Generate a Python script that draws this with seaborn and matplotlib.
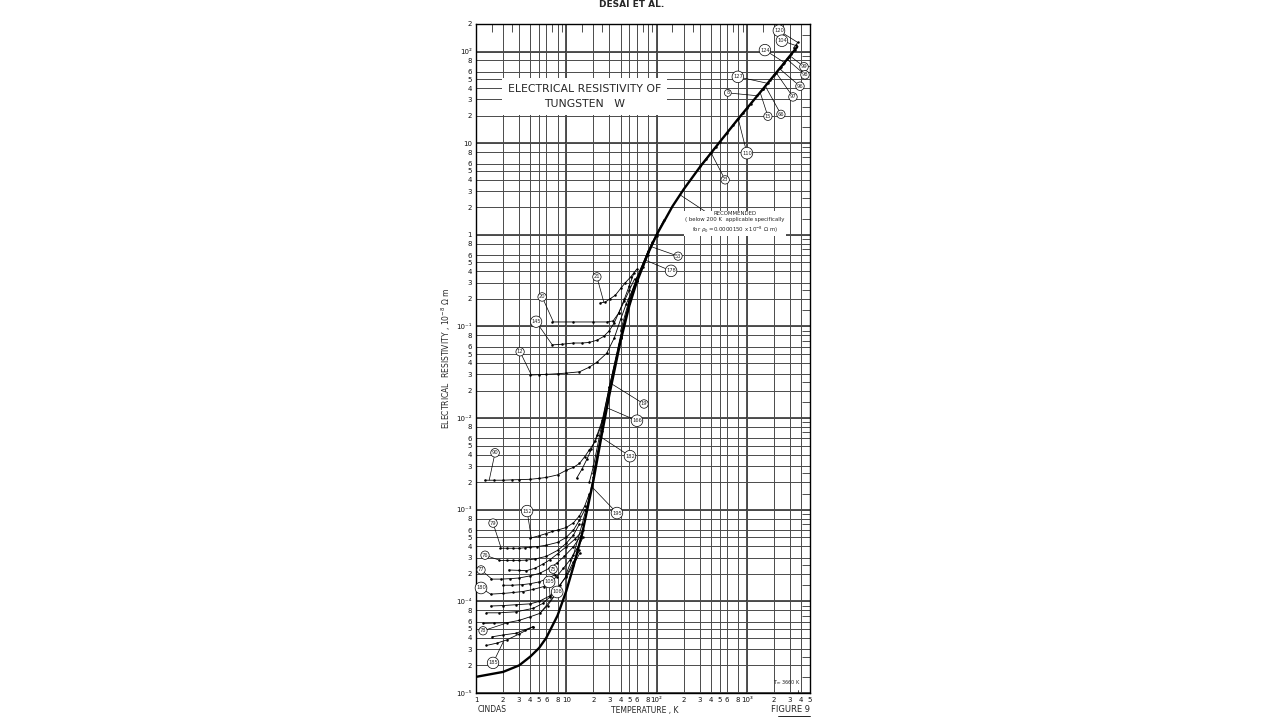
import math
import matplotlib
matplotlib.use("Agg")
import matplotlib.pyplot as plt
import matplotlib.ticker as mticker
from matplotlib.lines import Line2D
import seaborn as sns

# Recommended curve (rho0 = 0.0000150 x 10^-8 ohm m)
rec_T = [1, 2, 3, 4, 5, 6, 8, 10, 12, 15, 20, 25, 30, 40, 50, 60, 80, 100, 150, 200,
         300, 400, 500, 600, 800, 1000, 1500, 2000, 2500, 3000, 3600]
rec_rho = [1.5e-5, 1.7e-5, 2.0e-5, 2.5e-5, 3.1e-5, 4.0e-5, 7.0e-5, 1.3e-4, 2.4e-4, 5.5e-4,
           2.1e-3, 7.0e-3, 1.8e-2, 7.0e-2, 0.17, 0.30, 0.62, 1.0, 2.05, 3.15,
           5.45, 7.8, 10.3, 12.9, 18.4, 24.0, 38.8, 55.0, 72.0, 90.0, 112.0]

# experimental data sets (T in K, rho in 10^-8 ohm m)
t_12 = [4, 5, 6, 8, 10, 14, 18, 22, 28, 34, 40, 46, 53, 60]
rho_12 = [0.0295, 0.0298, 0.030, 0.0305, 0.031, 0.032, 0.036, 0.041, 0.051, 0.075, 0.12, 0.175, 0.24, 0.31]
t_145 = [7, 9, 12, 15, 18, 22, 26, 30, 34, 38, 44, 50, 57]
rho_145 = [0.063, 0.064, 0.066, 0.066, 0.067, 0.071, 0.078, 0.09, 0.11, 0.14, 0.19, 0.25, 0.33]
t_20 = [7, 12, 20, 28, 33, 38, 44, 50, 56]
rho_20 = [0.112, 0.112, 0.112, 0.112, 0.115, 0.14, 0.2, 0.28, 0.38]
t_21 = [23.6, 27, 30.5, 35, 40, 45, 52, 60]
rho_21 = [0.18, 0.185, 0.2, 0.22, 0.26, 0.30, 0.35, 0.42]
t_90 = [1.25, 1.6, 2, 2.5, 3, 4, 5, 6, 8, 10, 12, 14, 16, 18, 21, 24, 27]
rho_90 = [2.1e-3, 2.1e-3, 2.1e-3, 2.12e-3, 2.13e-3, 2.15e-3, 2.2e-3, 2.25e-3, 2.4e-3, 2.7e-3,
          2.9e-3, 3.2e-3, 3.8e-3, 4.5e-3, 5.6e-3, 8.0e-3, 1.2e-2]
t_182 = [13, 15, 17, 19, 22, 25, 30, 40]
rho_182 = [2.2e-3, 2.8e-3, 3.6e-3, 4.6e-3, 6.6e-3, 9.5e-3, 2.2e-2, 7.6e-2]
t_152 = [4, 5, 6, 7, 8, 10, 12, 14, 16, 18]
rho_152 = [4.9e-4, 5.2e-4, 5.5e-4, 5.8e-4, 6.0e-4, 6.4e-4, 7.2e-4, 8.6e-4, 1.1e-3, 1.5e-3]
t_79 = [1.85, 2.2, 2.6, 3, 3.5, 4, 4.7, 6, 8, 10, 12, 14, 16]
rho_79 = [3.8e-4, 3.8e-4, 3.8e-4, 3.8e-4, 3.85e-4, 3.9e-4, 3.95e-4, 4.1e-4, 4.4e-4, 5.0e-4, 6.0e-4, 7.7e-4, 1.0e-3]
t_76 = [1.8, 2.2, 2.6, 3.0, 3.6, 4.5, 6, 8, 10, 12, 14]
rho_76 = [2.8e-4, 2.8e-4, 2.8e-4, 2.8e-4, 2.82e-4, 2.9e-4, 3.1e-4, 3.6e-4, 4.3e-4, 5.3e-4, 7.0e-4]
t_a = [2.3, 3, 3.6, 4.5, 5.5, 6.6, 8, 10, 12.5, 15.4]
rho_a = [2.2e-4, 2.18e-4, 2.16e-4, 2.3e-4, 2.55e-4, 2.85e-4, 3.3e-4, 3.95e-4, 4.8e-4, 6.0e-4]
t_77 = [1.45, 1.9, 2.4, 3, 4, 5.1, 6.5, 7.8, 9.5, 12, 14.5]
rho_77 = [1.75e-4, 1.75e-4, 1.77e-4, 1.8e-4, 1.9e-4, 2.03e-4, 2.3e-4, 2.6e-4, 3.1e-4, 3.95e-4, 5.2e-4]
t_75 = [2, 2.5, 3.2, 4, 5, 6, 7.5]
rho_75 = [1.5e-4, 1.5e-4, 1.52e-4, 1.56e-4, 1.63e-4, 1.75e-4, 1.95e-4]
t_180 = [1.45, 2, 2.6, 3.3, 4.3, 5.6, 6.6, 7.8, 9.3, 11, 13, 15.4]
rho_180 = [1.2e-4, 1.22e-4, 1.25e-4, 1.28e-4, 1.35e-4, 1.45e-4, 1.6e-4, 1.86e-4, 2.3e-4, 2.83e-4, 3.7e-4, 5.0e-4]
t_105 = [1.45, 2, 2.8, 4, 5, 6.6, 8.5, 10, 12, 14]
rho_105 = [8.9e-5, 9.0e-5, 9.2e-5, 9.4e-5, 1.0e-4, 1.15e-4, 1.5e-4, 1.9e-4, 2.7e-4, 3.6e-4]
t_106 = [1.3, 1.8, 2.8, 4.3, 5.5, 6.6, 8, 10, 12, 14.2]
rho_106 = [7.5e-5, 7.5e-5, 7.7e-5, 8.4e-5, 9.5e-5, 1.12e-4, 1.4e-4, 1.86e-4, 2.5e-4, 3.4e-4]
t_108 = [1.2, 1.6, 2.2, 3, 4, 5.1, 6.2, 7.5]
rho_108 = [5.75e-5, 5.8e-5, 5.85e-5, 6.2e-5, 6.8e-5, 7.4e-5, 9e-5, 1.17e-4]
t_78 = [1.5, 2, 2.8, 3.5, 4.3]
rho_78 = [4.1e-5, 4.3e-5, 4.5e-5, 4.9e-5, 5.3e-5]
t_185 = [1.3, 1.7, 2.2, 3, 4.3]
rho_185 = [3.3e-5, 3.5e-5, 3.8e-5, 4.4e-5, 5.3e-5]
t_195 = [10, 12, 15, 18, 20, 25]
rho_195 = [2.0e-4, 3.2e-4, 7e-4, 1.4e-3, 2.3e-3, 7.3e-3]
t_19 = [18, 20, 25, 30, 40, 50, 60, 80]
rho_19 = [2e-3, 3e-3, 9e-3, 2.2e-2, 8e-2, 0.19, 0.33, 0.65]
t_166 = [20, 25, 30, 40, 50, 60]
rho_166 = [2.5e-3, 8e-3, 2.0e-2, 7.5e-2, 0.18, 0.31]
t_53 = [40, 50, 60, 70, 80, 90, 100, 120]
rho_53 = [0.09, 0.2, 0.34, 0.48, 0.66, 0.84, 1.02, 1.45]
t_178 = [40, 50, 60, 70, 80, 100]
rho_178 = [0.075, 0.18, 0.31, 0.45, 0.61, 0.98]
t_23 = [300, 350, 400, 450, 500]
rho_23 = [5.6, 6.7, 7.9, 9.1, 10.4]
t_110 = [600, 700, 800, 900, 1000]
rho_110 = [13.0, 15.8, 18.6, 21.4, 24.3]
t_8 = [1100, 1300, 1500, 1700]
rho_8 = [27.0, 33.2, 39.3, 45.5]
t_127 = [1500, 1800, 2100, 2400]
rho_127 = [39.0, 48.5, 58.5, 68.5]
t_97 = [2000, 2300, 2600, 2900]
rho_97 = [55.5, 65.5, 75.5, 86.5]
t_124 = [2500, 2800, 3100, 3400]
rho_124 = [72.5, 82.5, 93.0, 104.0]
t_120 = [3300, 3500, 3650]
rho_120 = [110.0, 118.0, 126.0]

T_MELT = 3660

data_sets = [
    (t_12, rho_12), (t_145, rho_145), (t_20, rho_20), (t_21, rho_21),
    (t_90, rho_90), (t_182, rho_182), (t_152, rho_152), (t_79, rho_79),
    (t_76, rho_76), (t_a, rho_a), (t_77, rho_77), (t_75, rho_75),
    (t_180, rho_180), (t_105, rho_105), (t_106, rho_106), (t_108, rho_108),
    (t_78, rho_78), (t_185, rho_185), (t_195, rho_195), (t_19, rho_19),
    (t_166, rho_166), (t_53, rho_53), (t_178, rho_178), (t_23, rho_23),
    (t_110, rho_110), (t_8, rho_8), (t_127, rho_127), (t_97, rho_97),
    (t_124, rho_124), (t_120, rho_120),
]

# curve labels: text, label position (axes fraction), point on curve (T, rho)
curve_labels = [
    ("120", (0.907, 0.990), (3650, 126)), ("104", (0.916, 0.975), (3700, 114)),
    ("124", (0.865, 0.961), (2600, 76)), ("99", (0.982, 0.936), (3000, 90)),
    ("98", (0.985, 0.924), (2800, 82)), ("96", (0.970, 0.907), (2300, 65)),
    ("97", (0.949, 0.891), (2100, 59)), ("127", (0.784, 0.921), (1700, 45)),
    ("8", (0.754, 0.897), (1300, 33)), ("15", (0.874, 0.862), (1400, 36)),
    ("66", (0.913, 0.865), (1600, 42)), ("110", (0.811, 0.807), (800, 18.6)),
    ("23", (0.746, 0.767), (400, 7.9)), ("53", (0.605, 0.653), (85, 0.75)),
    ("178", (0.584, 0.631), (75, 0.53)), ("21", (0.362, 0.622), (26, 0.185)),
    ("20", (0.198, 0.592), (7.2, 0.112)), ("145", (0.180, 0.555), (7, 0.063)),
    ("12", (0.132, 0.510), (4.1, 0.0296)), ("19", (0.503, 0.432), (31, 0.024)),
    ("166", (0.482, 0.407), (28, 0.013)), ("182", (0.461, 0.354), (22, 6.6e-3)),
    ("90", (0.057, 0.359), (1.4, 2.1e-3)), ("152", (0.153, 0.272), (4.1, 4.9e-4)),
    ("195", (0.422, 0.269), (19, 1.8e-3)), ("79", (0.051, 0.254), (1.9, 3.8e-4)),
    ("76", (0.027, 0.206), (1.85, 2.8e-4)), ("77", (0.015, 0.184), (1.5, 1.75e-4)),
    ("180", (0.015, 0.157), (1.45, 1.2e-4)), ("75", (0.231, 0.185), (7.5, 1.95e-4)),
    ("105", (0.219, 0.166), (6.6, 1.15e-4)), ("108", (0.243, 0.151), (5.1, 7.4e-5)),
    ("78", (0.021, 0.093), (2.3, 5.9e-5)), ("185", (0.051, 0.045), (2.0, 3.6e-5)),
]

FONT = ["Liberation Sans Narrow", "DejaVu Sans"]

sns.set_theme(style="white")
plt.rcParams["font.family"] = FONT
plt.rcParams["mathtext.fontset"] = "dejavusans"

fig = plt.figure(figsize=(12.8, 7.2), dpi=100)
fig.patch.set_facecolor("white")
ax = fig.add_axes([476 / 1280, 1 - 693 / 720, 334 / 1280, 669 / 720])
ax.set_xscale("log")
ax.set_yscale("log")
ax.set_xlim(1, 5000)
ax.set_ylim(1e-5, 2e2)

# grid: 1,2,3,4,5,6,8 of each decade, decades heavier
subs = [1, 2, 3, 4, 5, 6, 8]
x_major = [s * 10 ** k for k in range(0, 4) for s in subs if s * 10 ** k <= 5000]
y_major = [s * 10.0 ** k for k in range(-5, 3) for s in subs if s * 10.0 ** k <= 200]
ax.xaxis.set_major_locator(mticker.FixedLocator(x_major))
ax.yaxis.set_major_locator(mticker.FixedLocator(y_major))
minor = [1.5, 2.5, 7, 9]
ax.xaxis.set_minor_locator(mticker.FixedLocator([s * 10 ** k for k in range(0, 4) for s in minor]))
ax.yaxis.set_minor_locator(mticker.FixedLocator([s * 10.0 ** k for k in range(-5, 3) for s in minor]))
ax.xaxis.set_minor_formatter(mticker.NullFormatter())
ax.yaxis.set_minor_formatter(mticker.NullFormatter())
ax.grid(True, which="major", color="#4a4a4a", lw=0.7)
for k in range(0, 4):
    ax.axvline(10 ** k, color="#222222", lw=1.1, zorder=0.5)
for k in range(-5, 3):
    ax.axhline(10.0 ** k, color="#222222", lw=1.1, zorder=0.5)


def sup(k):
    digits = {"-": "\u207b", "1": "\u00b9", "2": "\u00b2", "3": "\u00b3",
              "4": "\u2074", "5": "\u2075"}
    return "10" + "".join(digits[c] for c in str(k))


def fmt(v, pos):
    e = math.floor(math.log10(v) + 1e-9)
    m = round(v / 10 ** e)
    if m == 1:
        if e == 0:
            return "1"
        if e == 1:
            return "10"
        return sup(e)
    return str(m)


ax.xaxis.set_major_formatter(mticker.FuncFormatter(fmt))
ax.yaxis.set_major_formatter(mticker.FuncFormatter(fmt))
ax.tick_params(axis="both", which="major", length=0, pad=3, labelsize=5, colors="#111111")
ax.tick_params(axis="both", which="minor", direction="in", length=6, width=0.6,
               top=True, right=True, color="#333333")
for sp in ax.spines.values():
    sp.set_color("black")
    sp.set_linewidth(1.0)

# data sets
for t, r in data_sets:
    sns.lineplot(x=t, y=r, ax=ax, color="black", lw=0.6, marker="o", markersize=1.8,
                 markeredgewidth=0, sort=False, estimator=None, zorder=3)

# recommended curve
sns.lineplot(x=rec_T, y=rec_rho, ax=ax, color="black", lw=1.7, sort=False,
             estimator=None, zorder=4)

# curve labels in small circles
for txt, pos, pt in curve_labels:
    ax.annotate(txt, xy=pt, xycoords="data", xytext=pos, textcoords="axes fraction",
                fontsize=3.7, ha="center", va="center", zorder=6,
                bbox=dict(boxstyle="circle,pad=0.18", fc="white", ec="black", lw=0.5),
                arrowprops=dict(arrowstyle="-", lw=0.5, color="black",
                                shrinkA=0, shrinkB=0))

# title block
ax.text(0.326, 0.892, "ELECTRICAL RESISTIVITY OF\nTUNGSTEN   W", transform=ax.transAxes,
        ha="center", va="center", fontsize=7.8, linespacing=1.6, zorder=7,
        bbox=dict(boxstyle="square,pad=0.55", fc="white", ec="none"))

# recommended note
ax.annotate("", xy=(180, 2.75), xycoords="data", xytext=(0.698, 0.716),
            textcoords="axes fraction",
            arrowprops=dict(arrowstyle="-", lw=0.5, color="black", shrinkA=0, shrinkB=0))
ax.text(0.776, 0.703,
        "RECOMMENDED\n( below 200 K  applicable specifically\nfor $\\rho_0$ =0.0000150 x 10$^{-8}$ \u03a9 m)",
        transform=ax.transAxes, ha="center", va="center", fontsize=3.9, linespacing=1.35,
        zorder=7, bbox=dict(boxstyle="square,pad=0.25", fc="white", ec="none"))

# melting point marker
ax.annotate("T$_m$ 3660 K", xy=(T_MELT, 1e-5), xycoords="data", xytext=(0.93, 0.016),
            textcoords="axes fraction", fontsize=3.6, ha="center", va="center",
            arrowprops=dict(arrowstyle="-", lw=0.5, color="black", shrinkA=6, shrinkB=0,
                            connectionstyle="angle,angleA=0,angleB=90,rad=0"))

ax.set_ylabel("ELECTRICAL  RESISTIVITY , 10$^{-8}$ \u03a9 m", fontsize=5.5, labelpad=2)
ax.set_xlabel("")

# bottom captions
fig.text(478 / 1280, 1 - 710 / 720, "CINDAS", fontsize=5.5, ha="left", va="center")
fig.text(645 / 1280, 1 - 710 / 720, "TEMPERATURE , K", fontsize=5.5, ha="center", va="center")
fig.text(810 / 1280, 1 - 710 / 720, "FIGURE 9", fontsize=6, ha="right", va="center")
fig.add_artist(Line2D([778 / 1280, 810 / 1280], [1 - 716 / 720, 1 - 716 / 720],
                      color="black", lw=0.6, transform=fig.transFigure))
fig.text(632 / 1280, 0.9995, "DESAI ET AL.", fontsize=6.5, fontweight="bold",
         ha="center", va="top")

fig.savefig("out.png", dpi=100, facecolor="white")
